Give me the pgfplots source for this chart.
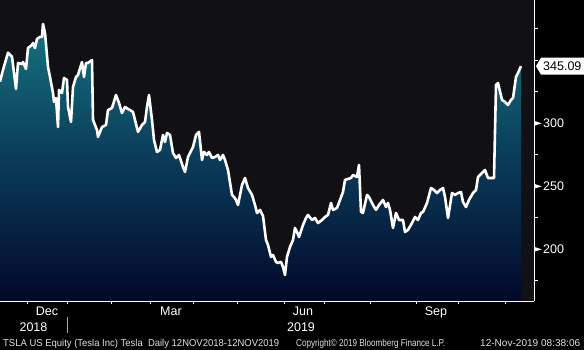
\documentclass[border=0pt]{standalone}
\usepackage{fontspec}
\setmainfont{Liberation Sans}
\usepackage{graphicx}
\usepackage{pgfplots}
\pgfplotsset{compat=1.18}
\usepackage{pgfplotstable}
\definecolor{plotbg}{RGB}{17,16,21}
\definecolor{fillTop}{RGB}{22,114,130}
\definecolor{fillMid}{RGB}{10,58,88}
\definecolor{fillBot}{RGB}{3,8,42}
\definecolor{footgray}{RGB}{225,225,225}

\pgfplotstableread{
x y
0 332.8
3 342.1
8 355.8
12 352.6
16 327.0
18 347.6
22 346.8
23 348.4
26 342.9
28 359.5
32 361.9
33 363.5
35 359.5
37 366.7
40 368.3
42 368.3
43 378.6
45 371.4
48 344.4
50 336.5
53 323.8
54 316.7
56 319.8
58 296.8
59 326.2
62 323.8
64 335.7
67 334.1
68 312.7
71 300.8
73 328.6
76 336.5
78 338.1
82 348.4
84 336.5
86 347.6
88 347.6
92 350.0
93 302.4
97 294.4
98 288.9
102 296.8
106 298.4
108 310.3
112 311.9
116 322.2
119 315.9
122 307.9
125 312.7
128 311.1
130 310.3
133 308.7
138 292.9
142 298.4
145 300.8
147 312.7
149 322.2
152 302.4
154 286.5
157 277.0
160 278.6
163 290.5
165 284.9
167 292.1
170 290.5
173 276.2
176 272.2
179 274.6
183 265.1
185 261.1
188 273.0
193 281.0
196 290.5
199 292.9
202 270.6
204 277.0
207 274.6
209 277.0
212 272.2
215 273.0
218 274.6
220 270.6
223 274.6
225 270.6
228 262.7
232 242.9
234 241.3
236 238.9
238 234.9
242 250.8
245 256.3
248 248.4
252 242.9
255 234.9
257 228.6
260 231.0
263 226.2
266 207.1
268 203.2
271 193.7
273 195.2
276 189.7
278 188.9
281 189.7
283 185.7
285 179.4
287 193.7
290 201.6
293 207.1
295 216.7
297 213.5
299 209.5
303 219.0
306 224.6
308 227.0
312 223.0
315 224.6
318 220.6
322 223.0
325 225.4
328 227.0
331 236.5
333 231.0
337 232.5
340 238.9
343 245.2
345 254.8
348 255.6
351 256.3
353 258.7
357 257.1
359 266.7
361 229.4
363 228.6
367 242.9
369 241.3
373 234.9
376 231.0
379 234.9
383 238.9
386 233.3
388 236.5
390 231.0
393 216.7
396 228.6
399 223.0
403 223.0
405 213.5
408 215.1
412 220.6
415 225.4
418 223.0
421 228.6
423 229.4
427 236.5
431 248.4
434 246.8
437 244.4
440 246.8
443 248.4
445 241.3
448 224.6
452 244.4
455 242.9
458 244.4
461 245.2
463 237.3
466 233.3
469 238.9
473 244.4
476 246.8
478 257.1
482 260.3
485 262.7
488 256.3
492 256.3
494 256.3
496 330.2
498 331.7
502 318.3
505 316.7
508 314.3
511 318.3
513 319.8
516 336.5
518 339.7
521 345.09
}\tsla

\newcommand{\tri}{\tikz[baseline=-0.6ex]\fill[white](0,-2.4bp)--(7.5bp,0)--(0,2.4bp)--cycle;\hspace{1.5bp}}

\begin{document}
\begin{tikzpicture}
\fill[black] (0,0) rectangle (584bp,350bp);
\begin{axis}[
  at={(0,350bp)}, anchor=north west,
  scale only axis, width=534bp, height=301bp,
  xmin=0, xmax=534, ymin=158.7, ymax=397.6,
  axis background/.style={fill=plotbg},
  axis x line*=bottom, axis y line*=right,
  axis line style={white, line width=0.8bp},
  tick align=outside, major tick length=3.5bp, minor tick length=4bp,
  every tick/.style={white, line width=0.8bp},
  xtick={27,67,111,150,193,237,284,324,370,416,458,505},
  xticklabels={},
  ytick={200,250,300,350},
  yticklabels={\tri 200,\tri 250,\tri 300,{}},
  minor ytick={175,225,275,325,375},
  yticklabel style={text=white, anchor=west, inner sep=0pt, xshift=-3.5bp},
  tick label style={font=\fontsize{12.5bp}{14bp}\selectfont},
  clip mode=individual,
]
\addplot[draw=none, top color=fillTop, bottom color=fillBot, middle color=fillMid]
  table[x=x, y=y]{\tsla} -- (axis cs:521,158.7) -- (axis cs:0,158.7) -- cycle;
\addplot[white, line width=2.6bp, line join=round] table[x=x, y=y]{\tsla};
\coordinate (lastpt) at (axis cs:534,345.09);
\begin{scope}[font=\fontsize{12.5bp}{14bp}\selectfont, text=white]
\node[anchor=base, inner sep=0pt] at ([yshift=-15bp]axis cs:47,158.7) {Dec};
\node[anchor=base, inner sep=0pt] at ([yshift=-15bp]axis cs:171,158.7) {Mar};
\node[anchor=base, inner sep=0pt] at ([yshift=-15bp]axis cs:303,158.7) {Jun};
\node[anchor=base, inner sep=0pt] at ([yshift=-15bp]axis cs:436,158.7) {Sep};
\node[anchor=base, inner sep=0pt] at ([yshift=-31bp]axis cs:33.5,158.7) {2018};
\node[anchor=base, inner sep=0pt] at ([yshift=-31bp]axis cs:301,158.7) {2019};
\end{scope}
\draw[gray!70!white, line width=0.6bp] ([yshift=-16bp]axis cs:67,158.7) -- ([yshift=-32bp]axis cs:67,158.7);
\end{axis}
\fill[white] ([xshift=2bp]lastpt) -- ++(5bp,8.5bp) -- ++(52bp,0) -- ++(0,-17bp) -- ++(-52bp,0) -- cycle;
\node[anchor=west, inner sep=0pt, text=black, font=\fontsize{12.5bp}{14bp}\selectfont] at ([xshift=9bp]lastpt) {345.09};
\begin{scope}[text=footgray, font=\fontsize{10bp}{12bp}\selectfont]
\node[anchor=base west, inner sep=0pt] at (3bp,4bp) {\resizebox{276bp}{\height}{TSLA US Equity (Tesla Inc) Tesla\ \ Daily 12NOV2018-12NOV2019}};
\node[anchor=base west, inner sep=0pt] at (296bp,4bp) {\resizebox{149bp}{\height}{Copyright© 2019 Bloomberg Finance L.P.}};
\node[anchor=base west, inner sep=0pt] at (480bp,4bp) {\resizebox{100bp}{\height}{12-Nov-2019 08:38:06}};
\end{scope}
\pgfresetboundingbox
\useasboundingbox (0,0) rectangle (584bp,350bp);
\end{tikzpicture}
\end{document}
